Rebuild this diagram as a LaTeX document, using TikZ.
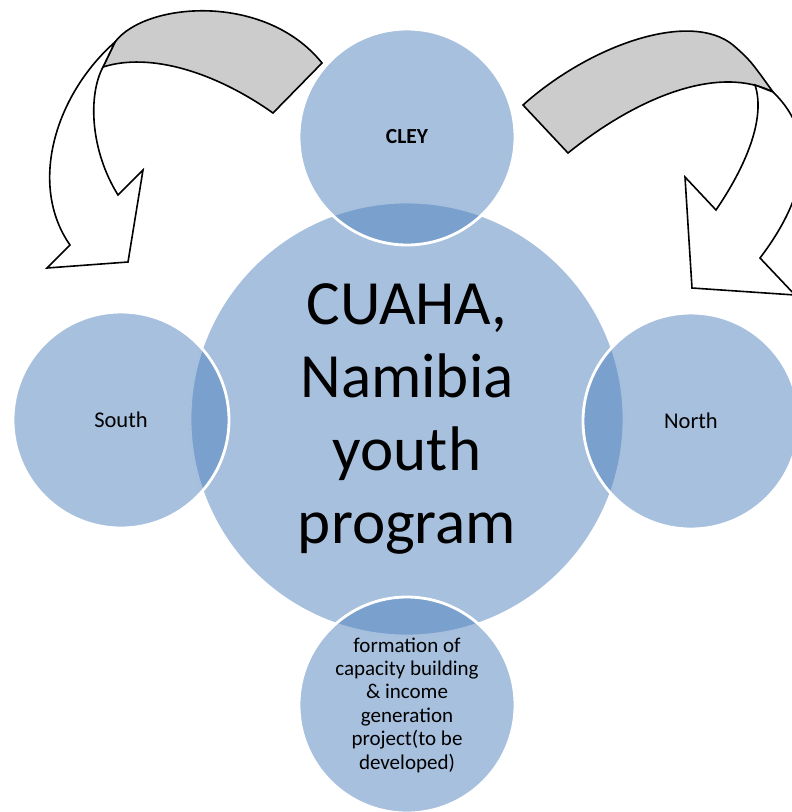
\documentclass[tikz,border=0pt]{standalone}
\usepackage{fontspec}
\setmainfont{Carlito}
\definecolor{accent}{RGB}{79,129,189}
\definecolor{bandgray}{RGB}{204,204,204}

\begin{document}
\begin{tikzpicture}[x=1pt,y=-1pt]
	\tikzstyle{every node}+=[inner sep=0pt]
	\tikzstyle{bubble}=[circle,fill=accent,fill opacity=0.5,text opacity=1,draw=white,line width=2.8pt,minimum size=216pt,align=center,font=\fontsize{22.5}{26}\selectfont]
	\tikzstyle{hub}=[bubble,minimum size=434pt,font=\fontsize{63}{73}\selectfont]
	\tikzstyle{turn}=[black,line width=1.6pt,line join=miter]
	\useasboundingbox (0,0) rectangle (792,812);
	\clip (0,0) rectangle (792,812);
	\node[hub] (hub) at (407,419) {CUAHA,\\Namibia\\youth\\program\rule[-8pt]{0pt}{0pt}};
	\node[bubble,font=\fontsize{21.5}{25}\selectfont\bfseries] (cley) at (407,137) {CLEY};
	\node[bubble] (south) at (121,420) {South};
	\node[bubble] (north) at (691,421) {North};
	\node[bubble,font=\fontsize{21}{23.4}\selectfont] (project) at (407,705) {formation of\\capacity building\\\& income\\generation\\project(to be\\developed)};
	\draw [turn,fill=bandgray] (115,42) .. controls (145,2) and (265,-8) .. (322,63) -- (273,113) .. controls (215,72) and (150,52) .. (103,67) -- cycle;
	\draw [turn,fill=white] (115,42) .. controls (55,95) and (28,185) .. (70,245) -- (47,268) -- (128,262) -- (143,170) -- (118,195) .. controls (90,150) and (88,95) .. (103,67) -- cycle;
	\draw [turn,fill=bandgray] (523,105) .. controls (590,45) and (690,10) .. (733,45) .. controls (750,60) .. (773,92) .. controls (720,65) and (640,95) .. (568,153) -- cycle;
	\draw [turn,fill=white] (773,92) .. controls (818,135) and (808,195) .. (760,258) -- (795,295) -- (692,288) -- (685,177) -- (716,210) .. controls (750,160) and (765,115) .. (755,85) -- cycle;
\end{tikzpicture}
\end{document}
